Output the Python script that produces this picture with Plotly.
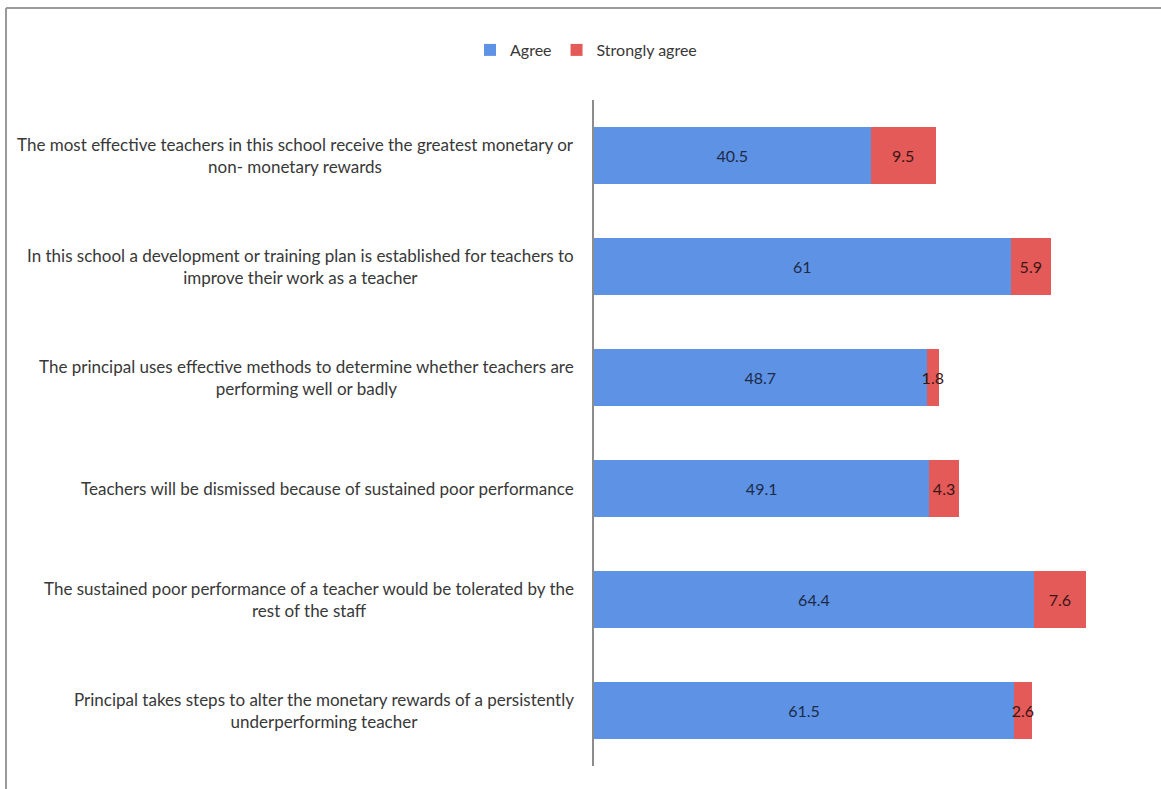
import plotly.graph_objects as go

# Survey statements (top to bottom) and percentage of respondents
statements = [
    "The most effective teachers in this school receive the greatest monetary or<br>non- monetary rewards",
    "In this school a development or training plan is established for teachers to<br>improve their work as a teacher",
    "The principal uses effective methods to determine whether teachers are<br>performing well or badly",
    "Teachers will be dismissed because of sustained poor performance",
    "The sustained poor performance of a teacher would be tolerated by the<br>rest of the staff",
    "Principal takes steps to alter the monetary rewards of a persistently<br>underperforming teacher",
]
agree = [40.5, 61, 48.7, 49.1, 64.4, 61.5]
strongly_agree = [9.5, 5.9, 1.8, 4.3, 7.6, 2.6]

FONT = "Lato, Calibri, Carlito, sans-serif"
W, H = 1161, 789
L, R, T, B = 594, 14, 100, 23
pw, ph = W - L - R, H - T - B

def px_x(px):
    return (px - L) / pw

def px_y(py):
    return (H - B - py) / ph

cats = list(range(len(statements)))

fig = go.Figure()
fig.add_trace(go.Bar(
    y=cats, x=agree, orientation="h", name="Agree",
    marker=dict(color="#5e92e4", line=dict(width=0)),
    text=agree, texttemplate="%{x}", textposition="inside",
    insidetextanchor="middle", textangle=0,
    textfont=dict(family=FONT, size=16, color="#1c2b48"),
))
fig.add_trace(go.Bar(
    y=cats, x=strongly_agree, orientation="h", name="Strongly agree",
    marker=dict(color="#e35a58", line=dict(width=0)),
    text=strongly_agree, texttemplate="%{x}", textposition="inside",
    insidetextanchor="middle", textangle=0,
    textfont=dict(family=FONT, size=16, color="#3b1616"),
))

# Statement labels, centred lines, right edge just left of the axis
for i, s in enumerate(statements):
    fig.add_annotation(
        x=px_x(576), xref="paper", y=i, yref="y",
        text=s, showarrow=False, xanchor="right", align="center",
        font=dict(family=FONT, size=17, color="#383838"),
    )

# Outer frame (top and left edges)
frame = dict(color="#9a9a9a", width=2)
fig.add_shape(type="line", xref="paper", yref="paper",
              x0=px_x(6), x1=px_x(W), y0=px_y(8), y1=px_y(8), line=frame)
fig.add_shape(type="line", xref="paper", yref="paper",
              x0=px_x(6), x1=px_x(6), y0=px_y(8), y1=px_y(H), line=frame)

fig.update_layout(
    width=W, height=H,
    margin=dict(l=L, r=R, t=T, b=B),
    barmode="stack", bargap=0.48,
    plot_bgcolor="white", paper_bgcolor="white",
    uniformtext=dict(minsize=16, mode="show"),
    font=dict(family=FONT, color="#404040"),
    showlegend=True,
    legend=dict(
        orientation="h", x=px_x(586), xanchor="center",
        y=px_y(50), yanchor="middle",
        font=dict(family=FONT, size=16, color="#383838"),
        itemwidth=30, traceorder="normal",
    ),
    xaxis=dict(range=[0, pw / 6.83], visible=False, fixedrange=True),
    yaxis=dict(
        range=[len(statements) - 0.5, -0.5], showticklabels=False,
        showgrid=False, zeroline=False, ticks="",
        showline=True, linecolor="#8c8c8c", linewidth=1.5,
    ),
)

fig.write_html("out.html")
